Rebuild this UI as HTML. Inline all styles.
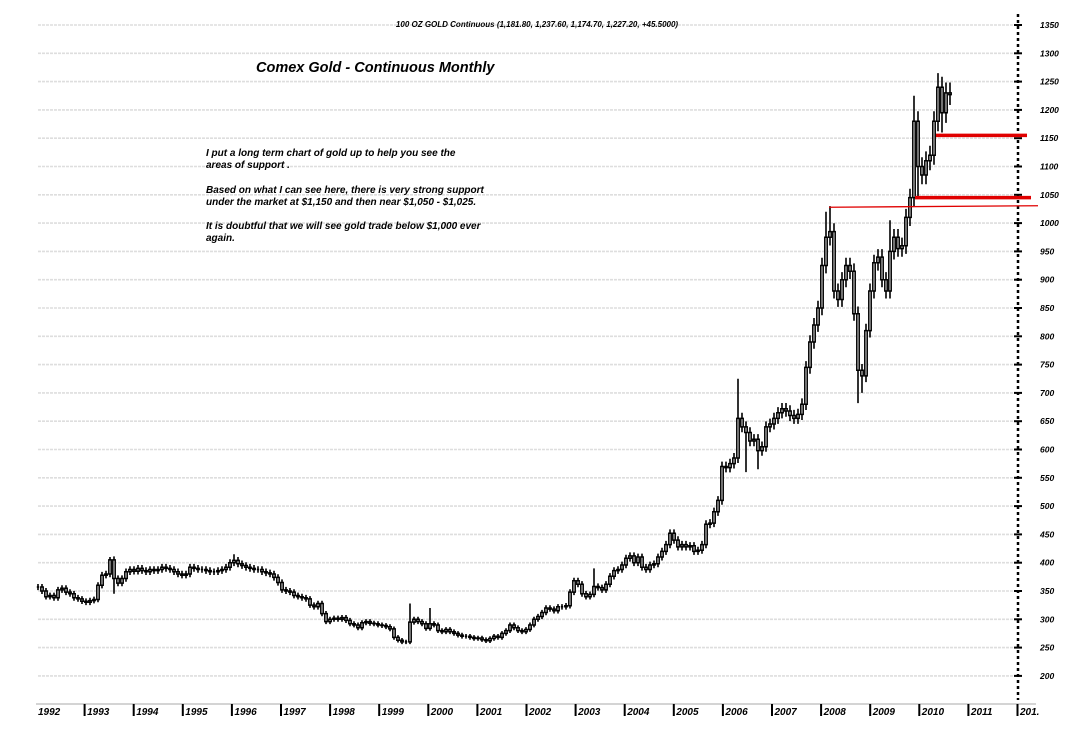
<!DOCTYPE html>
<html><head><meta charset="utf-8"><style>
html,body{margin:0;padding:0;background:#fff;width:1086px;height:748px;overflow:hidden}
svg{display:block}
text{font-family:"Liberation Sans",sans-serif;font-style:italic;font-weight:bold;fill:#000}
</style></head><body>
<svg id="chart" width="1086" height="748" viewBox="0 0 1086 748">
<g id="grid"></g>
<g id="yaxis"></g>
<g id="xaxis"></g>
<g id="bars"></g>
<g id="support"></g>
<text x="537" y="27" font-size="8" text-anchor="middle">100 OZ  GOLD Continuous (1,181.80, 1,237.60, 1,174.70, 1,227.20, +45.5000)</text>
<text x="256" y="72" font-size="14.5">Comex Gold - Continuous Monthly</text>
<g font-size="10">
<text x="206" y="156">I put a long term chart of gold up to help you see the</text>
<text x="206" y="168">areas of support .</text>
<text x="206" y="193">Based on what I can see here, there is very strong support</text>
<text x="206" y="205">under the market at $1,150 and then near $1,050 - $1,025.</text>
<text x="206" y="229">It is doubtful that we will see gold trade below $1,000 ever</text>
<text x="206" y="241">again.</text>
</g>
</svg>
<script>
const closes=[357,350,340,342,338,352,355,348,345,338,336,332,330,333,335,360,378,380,405,372,364,372,384,388,385,390,386,384,388,386,388,392,390,388,384,380,378,380,392,390,388,388,386,384,384,386,388,392,400,404,398,395,392,390,388,388,384,382,380,374,365,352,350,348,342,340,338,336,325,322,328,310,296,300,302,300,303,298,292,290,285,294,296,293,292,290,289,287,283,268,263,260,260,295,300,296,292,284,292,290,280,278,282,278,275,272,270,270,268,266,267,264,262,266,270,268,275,280,290,285,280,278,282,290,300,305,312,320,318,315,322,322,324,348,368,362,345,340,344,358,356,352,362,376,386,388,396,408,412,400,410,392,388,396,398,410,420,432,452,440,428,432,428,430,420,422,432,468,470,490,510,570,568,575,585,655,640,630,615,618,598,605,640,645,655,665,672,668,660,655,662,680,745,790,820,850,925,975,985,880,865,900,925,915,840,740,730,810,880,930,940,900,880,950,975,955,960,1010,1045,1180,1100,1085,1110,1120,1180,1240,1195,1230,1227];
const spikeIdx=[18,19,49,93,98,139,175,177,180,197,198,205,206,213,219,220,225,226];
const spikeHigh=[410,0,415,328,320,390,725,0,0,1020,1030,0,0,1005,1225,0,1265,0];
const spikeLow=[0,345,0,0,0,0,0,560,565,0,0,682,700,0,0,1045,0,1160];
const wickPct=[0.015];
const yTicks=[200,250,300,350,400,450,500,550,600,650,700,750,800,850,900,950,1000,1050,1100,1150,1200,1250,1300,1350];
const years=["1992","1993","1994","1995","1996","1997","1998","1999","2000","2001","2002","2003","2004","2005","2006","2007","2008","2009","2010","2011","201."];
const supportPrices=[1155,1045,1028];

const NS="http://www.w3.org/2000/svg";
function y(p){return 25+(1350-p)*0.566;}
function xb(i){return 38+i*4;}
function xy(k){return 35.5+k*49.1;}
function mk(tag,attrs,parent){const e=document.createElementNS(NS,tag);for(const k in attrs)e.setAttribute(k,attrs[k]);parent.appendChild(e);return e;}

const grid=document.getElementById('grid'),ya=document.getElementById('yaxis'),xa=document.getElementById('xaxis'),bars=document.getElementById('bars'),sup=document.getElementById('support');
yTicks.forEach(t=>{
  const l=mk('line',{x1:38,x2:1015,y1:y(t),y2:y(t),stroke:'#dedede','stroke-width':1.6,'stroke-dasharray':'3,1'},grid);
  
  
  const tk=mk('line',{x1:1014,x2:1022,y1:y(t),y2:y(t),stroke:'#000','stroke-width':2},ya);
  
  
  const tx=mk('text',{x:1040,y:y(t)+3,'font-size':8.5},ya);
  tx.textContent=t;
  
  
});
const axl=mk('line',{x1:1018,x2:1018,y1:14,y2:700,stroke:'#000','stroke-width':2.5,'stroke-dasharray':'3,3'},ya);


const bl=mk('line',{x1:36,x2:1036,y1:704,y2:704,stroke:'#aaa','stroke-width':1},xa);


years.forEach((yr,k)=>{
  const x=xy(k);
  if(k>0){const t=mk('line',{x1:x,x2:x,y1:704,y2:716,stroke:'#000','stroke-width':2},xa);
  
  }
  const tx=mk('text',{x:x+2.5,y:715,'font-size':10},xa);
  tx.textContent=yr;
  
  
});
let d='',dr='';
closes.forEach((c,i)=>{
  const o=i>0?closes[i-1]:c;
  let hi=Math.max(o,c)*(1+wickPct[0]),lo=Math.min(o,c)*(1-wickPct[0]);
  const s=spikeIdx.indexOf(i);
  if(s>=0){if(spikeHigh[s])hi=spikeHigh[s];if(spikeLow[s])lo=spikeLow[s];}
  const x=xb(i);
  d+='M'+x+' '+y(hi).toFixed(1)+'V'+y(lo).toFixed(1);
  const top=y(Math.max(o,c)),bot=y(Math.min(o,c));
  dr+='M'+(x-1.2)+' '+top.toFixed(1)+'H'+(x+1.2)+'V'+bot.toFixed(1)+'H'+(x-1.2)+'Z';
});
const bp=mk('path',{d:d,stroke:'#000','stroke-width':1.6,fill:'none'},bars);


const bb=mk('path',{d:dr,stroke:'#000','stroke-width':1.5,fill:'#fff'},bars);


const s1=mk('line',{x1:936,x2:1027,y1:y(supportPrices[0]),y2:y(supportPrices[0]),stroke:'#e00000','stroke-width':3.5},sup);


const s2=mk('line',{x1:915,x2:1031,y1:y(supportPrices[1]),y2:y(supportPrices[1]),stroke:'#e00000','stroke-width':3.5},sup);


const s3=mk('line',{x1:829,x2:1038,y1:y(supportPrices[2]),y2:y(supportPrices[2])-1.5,stroke:'#e00000','stroke-width':1.3},sup);


</script>
</body></html>
